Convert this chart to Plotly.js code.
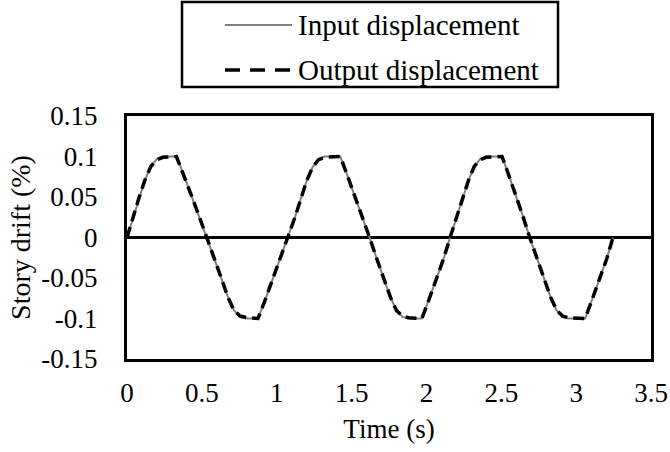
<!DOCTYPE html>
<html>
<head>
<meta charset="utf-8">
<script src="https://cdn.plot.ly/plotly-3.0.1.min.js"></script>
<style>
  html, body { margin: 0; padding: 0; background: #ffffff; }
  #chart { width: 670px; height: 452px; }
</style>
</head>
<body>
<div id="chart"></div>
<script>
// Time (s)
const timeS = [
  0, 0.04, 0.08, 0.12, 0.16, 0.20, 0.24, 0.33, 0.38, 0.43, 0.48, 0.535,
  0.585, 0.635, 0.675, 0.715, 0.755, 0.80, 0.875, 0.925, 0.975, 1.025, 1.076,
  1.12, 1.16, 1.20, 1.24, 1.28, 1.32, 1.425, 1.475, 1.525, 1.575, 1.62,
  1.67, 1.72, 1.76, 1.80, 1.84, 1.88, 1.97, 2.02, 2.07, 2.115, 2.158,
  2.20, 2.24, 2.28, 2.32, 2.36, 2.40, 2.505, 2.55, 2.60, 2.645, 2.69,
  2.74, 2.79, 2.83, 2.87, 2.91, 2.95, 3.06, 3.11, 3.16, 3.205, 3.246
];
// Story drift (%) - input displacement
const inputDrift = [
  0, 0.024, 0.048, 0.071, 0.088, 0.097, 0.1, 0.1, 0.077, 0.052, 0.027, 0,
  -0.027, -0.053, -0.074, -0.09, -0.098, -0.1, -0.1, -0.076, -0.051, -0.026, 0,
  0.024, 0.047, 0.07, 0.087, 0.097, 0.1, 0.1, 0.075, 0.05, 0.024, 0,
  -0.027, -0.053, -0.074, -0.09, -0.098, -0.1, -0.1, -0.075, -0.05, -0.026, 0,
  0.024, 0.048, 0.07, 0.088, 0.097, 0.1, 0.1, 0.077, 0.051, 0.026, 0,
  -0.027, -0.053, -0.074, -0.09, -0.098, -0.1, -0.1, -0.075, -0.05, -0.026, 0
];
// Story drift (%) - output displacement
const outputDrift = [
  0, 0.025, 0.049, 0.071, 0.088, 0.096, 0.099, 0.1, 0.077, 0.052, 0.027, 0,
  -0.027, -0.053, -0.074, -0.09, -0.097, -0.099, -0.1, -0.076, -0.051, -0.026, 0,
  0.024, 0.047, 0.07, 0.087, 0.096, 0.099, 0.1, 0.075, 0.05, 0.024, 0,
  -0.027, -0.053, -0.074, -0.09, -0.097, -0.099, -0.1, -0.075, -0.05, -0.026, 0,
  0.024, 0.048, 0.07, 0.088, 0.096, 0.099, 0.1, 0.077, 0.051, 0.026, 0,
  -0.027, -0.053, -0.074, -0.09, -0.097, -0.099, -0.1, -0.075, -0.05, -0.026, 0
];
const seriesNames = ["Input displacement", "Output displacement"];
const xTickVals = [0, 0.5, 1, 1.5, 2, 2.5, 3, 3.5];
const xTickText = ["0", "0.5", "1", "1.5", "2", "2.5", "3", "3.5"];
const yTickVals = [-0.15, -0.1, -0.05, 0, 0.05, 0.1, 0.15];
const yTickText = ["-0.15", "-0.1", "-0.05", "0", "0.05", "0.1", "0.15"];

const FONT = "Liberation Serif";

const inputLine = { color: "#808080", width: 2 };
const outputLine = { color: "#000000", width: 3.5, dash: "11px,6px" };

const traces = [
  { x: timeS, y: inputDrift, type: "scatter", mode: "lines", name: seriesNames[0], line: inputLine },
  { x: timeS, y: outputDrift, type: "scatter", mode: "lines", name: seriesNames[1], line: outputLine }
];

// Legend drawn as a boxed key above the plot (paper coordinates)
const px = v => (v - 127) / 524;   // helper: pixel x -> paper x
const py = v => (359 - v) / 243;   // helper: pixel y -> paper y
const legendShapes = [
  { type: "rect", xref: "paper", yref: "paper", x0: px(182), x1: px(558), y0: py(87), y1: py(2),
    line: { color: "#000000", width: 2.5 }, fillcolor: "rgba(0,0,0,0)" },
  { type: "line", xref: "paper", yref: "paper", x0: px(225), x1: px(292), y0: py(25), y1: py(25),
    line: { color: inputLine.color, width: inputLine.width } },
  { type: "line", xref: "paper", yref: "paper", x0: px(225), x1: px(291), y0: py(70), y1: py(70),
    line: { color: outputLine.color, width: outputLine.width, dash: "15px,10px" } }
];
const legendTexts = [
  { text: seriesNames[0], xref: "paper", yref: "paper", x: px(296), y: py(25), xanchor: "left", yanchor: "middle",
    showarrow: false, font: { family: FONT, size: 29, color: "#000000" } },
  { text: seriesNames[1], xref: "paper", yref: "paper", x: px(296), y: py(70), xanchor: "left", yanchor: "middle",
    showarrow: false, font: { family: FONT, size: 29, color: "#000000" } }
];

const layout = {
  width: 670, height: 452,
  margin: { l: 127, r: 19, t: 116, b: 93 },
  paper_bgcolor: "#ffffff", plot_bgcolor: "#ffffff",
  font: { family: FONT, size: 27, color: "#000000" },
  showlegend: false,
  shapes: legendShapes,
  annotations: legendTexts,
  xaxis: {
    range: [0, 3.5], tickvals: xTickVals, ticktext: xTickText,
    showgrid: false, zeroline: false, ticks: "",
    showline: true, mirror: true, linecolor: "#000000", linewidth: 3,
    ticklabelstandoff: 8,
    tickfont: { family: FONT, size: 27 },
    title: { text: "Time (s)", font: { family: FONT, size: 27 }, standoff: 12 }
  },
  yaxis: {
    range: [-0.15, 0.15], tickvals: yTickVals, ticktext: yTickText,
    showgrid: false, zeroline: true, zerolinecolor: "#000000", zerolinewidth: 2.5,
    ticks: "", showline: true, mirror: true, linecolor: "#000000", linewidth: 3,
    ticklabelstandoff: 21,
    tickfont: { family: FONT, size: 27 },
    title: { text: "Story drift (%)", font: { family: FONT, size: 28 }, standoff: 3 }
  }
};

Plotly.newPlot("chart", traces, layout, { displayModeBar: false, staticPlot: true });
</script>
</body>
</html>
